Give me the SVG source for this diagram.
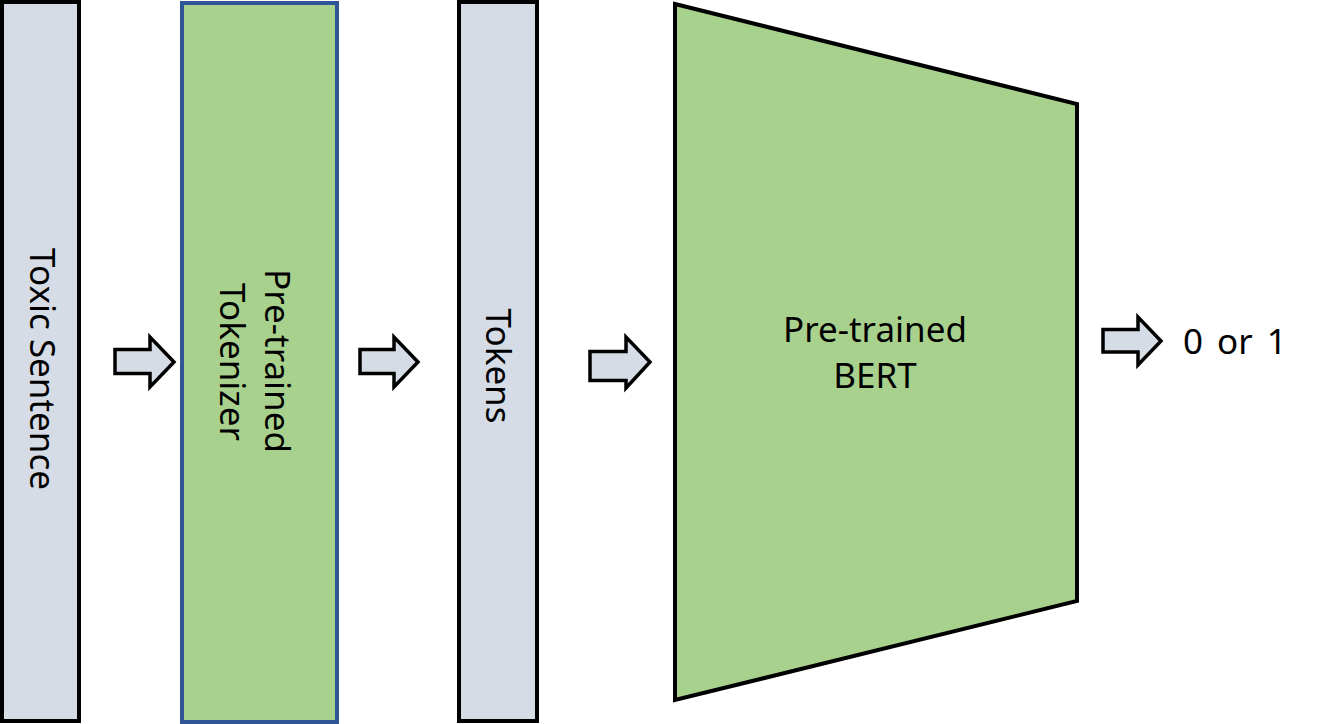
<svg xmlns="http://www.w3.org/2000/svg" width="1337" height="724" viewBox="0 0 1337 724">
<style>
.lbl{font-family:"Noto Sans","Open Sans",sans-serif;font-size:35px;fill:#000}
.gray{fill:#D6DCE5;stroke:#000;stroke-width:4}
.green{fill:#A9D18E;stroke:#000;stroke-width:4}
.arrow{fill:#D6DCE5;stroke:#000;stroke-width:3.5;stroke-linejoin:miter}
</style>
<rect width="1337" height="724" fill="#fff"/>
<g id="toxic-sentence">
<rect class="gray" x="2" y="2" width="77" height="719"/>
<text class="lbl" text-anchor="middle" transform="translate(30,369) rotate(90)">Toxic Sentence</text>
</g>
<g id="tokenizer">
<rect x="182" y="3" width="155" height="719" fill="#A9D18E" stroke="#2F5597" stroke-width="4"/>
<text class="lbl" text-anchor="middle" transform="translate(265,361) rotate(90)">Pre-trained</text>
<text class="lbl" text-anchor="middle" transform="translate(220,362) rotate(90)">Tokenizer</text>
</g>
<g id="tokens">
<rect class="gray" x="459" y="2" width="78" height="719"/>
<text class="lbl" text-anchor="middle" transform="translate(486,366) rotate(90)">Tokens</text>
</g>
<g id="bert">
<polygon class="green" points="675,4 1077,104 1077,601 675,700"/>
<text class="lbl" text-anchor="middle" x="875" y="342">Pre-trained</text>
<text class="lbl" text-anchor="middle" x="875" y="388">BERT</text>
</g>
<g id="output">
<text class="lbl" x="1183" y="354" word-spacing="5">0 or 1</text>
</g>
<g id="connectors">
<polygon class="arrow" points="115,349.5 150,349.5 150,337 174,362 150,387 150,373.5 115,373.5"/>
<polygon class="arrow" points="360,349.5 394,349.5 394,337 418,362 394,387 394,373.5 360,373.5"/>
<polygon class="arrow" points="590,351.5 626,351.5 626,337 650,362 626,388 626,380.5 590,380.5"/>
<polygon class="arrow" points="1103,329.5 1138,329.5 1138,317 1161,341 1138,365 1138,352 1103,352"/>
</g>
</svg>
